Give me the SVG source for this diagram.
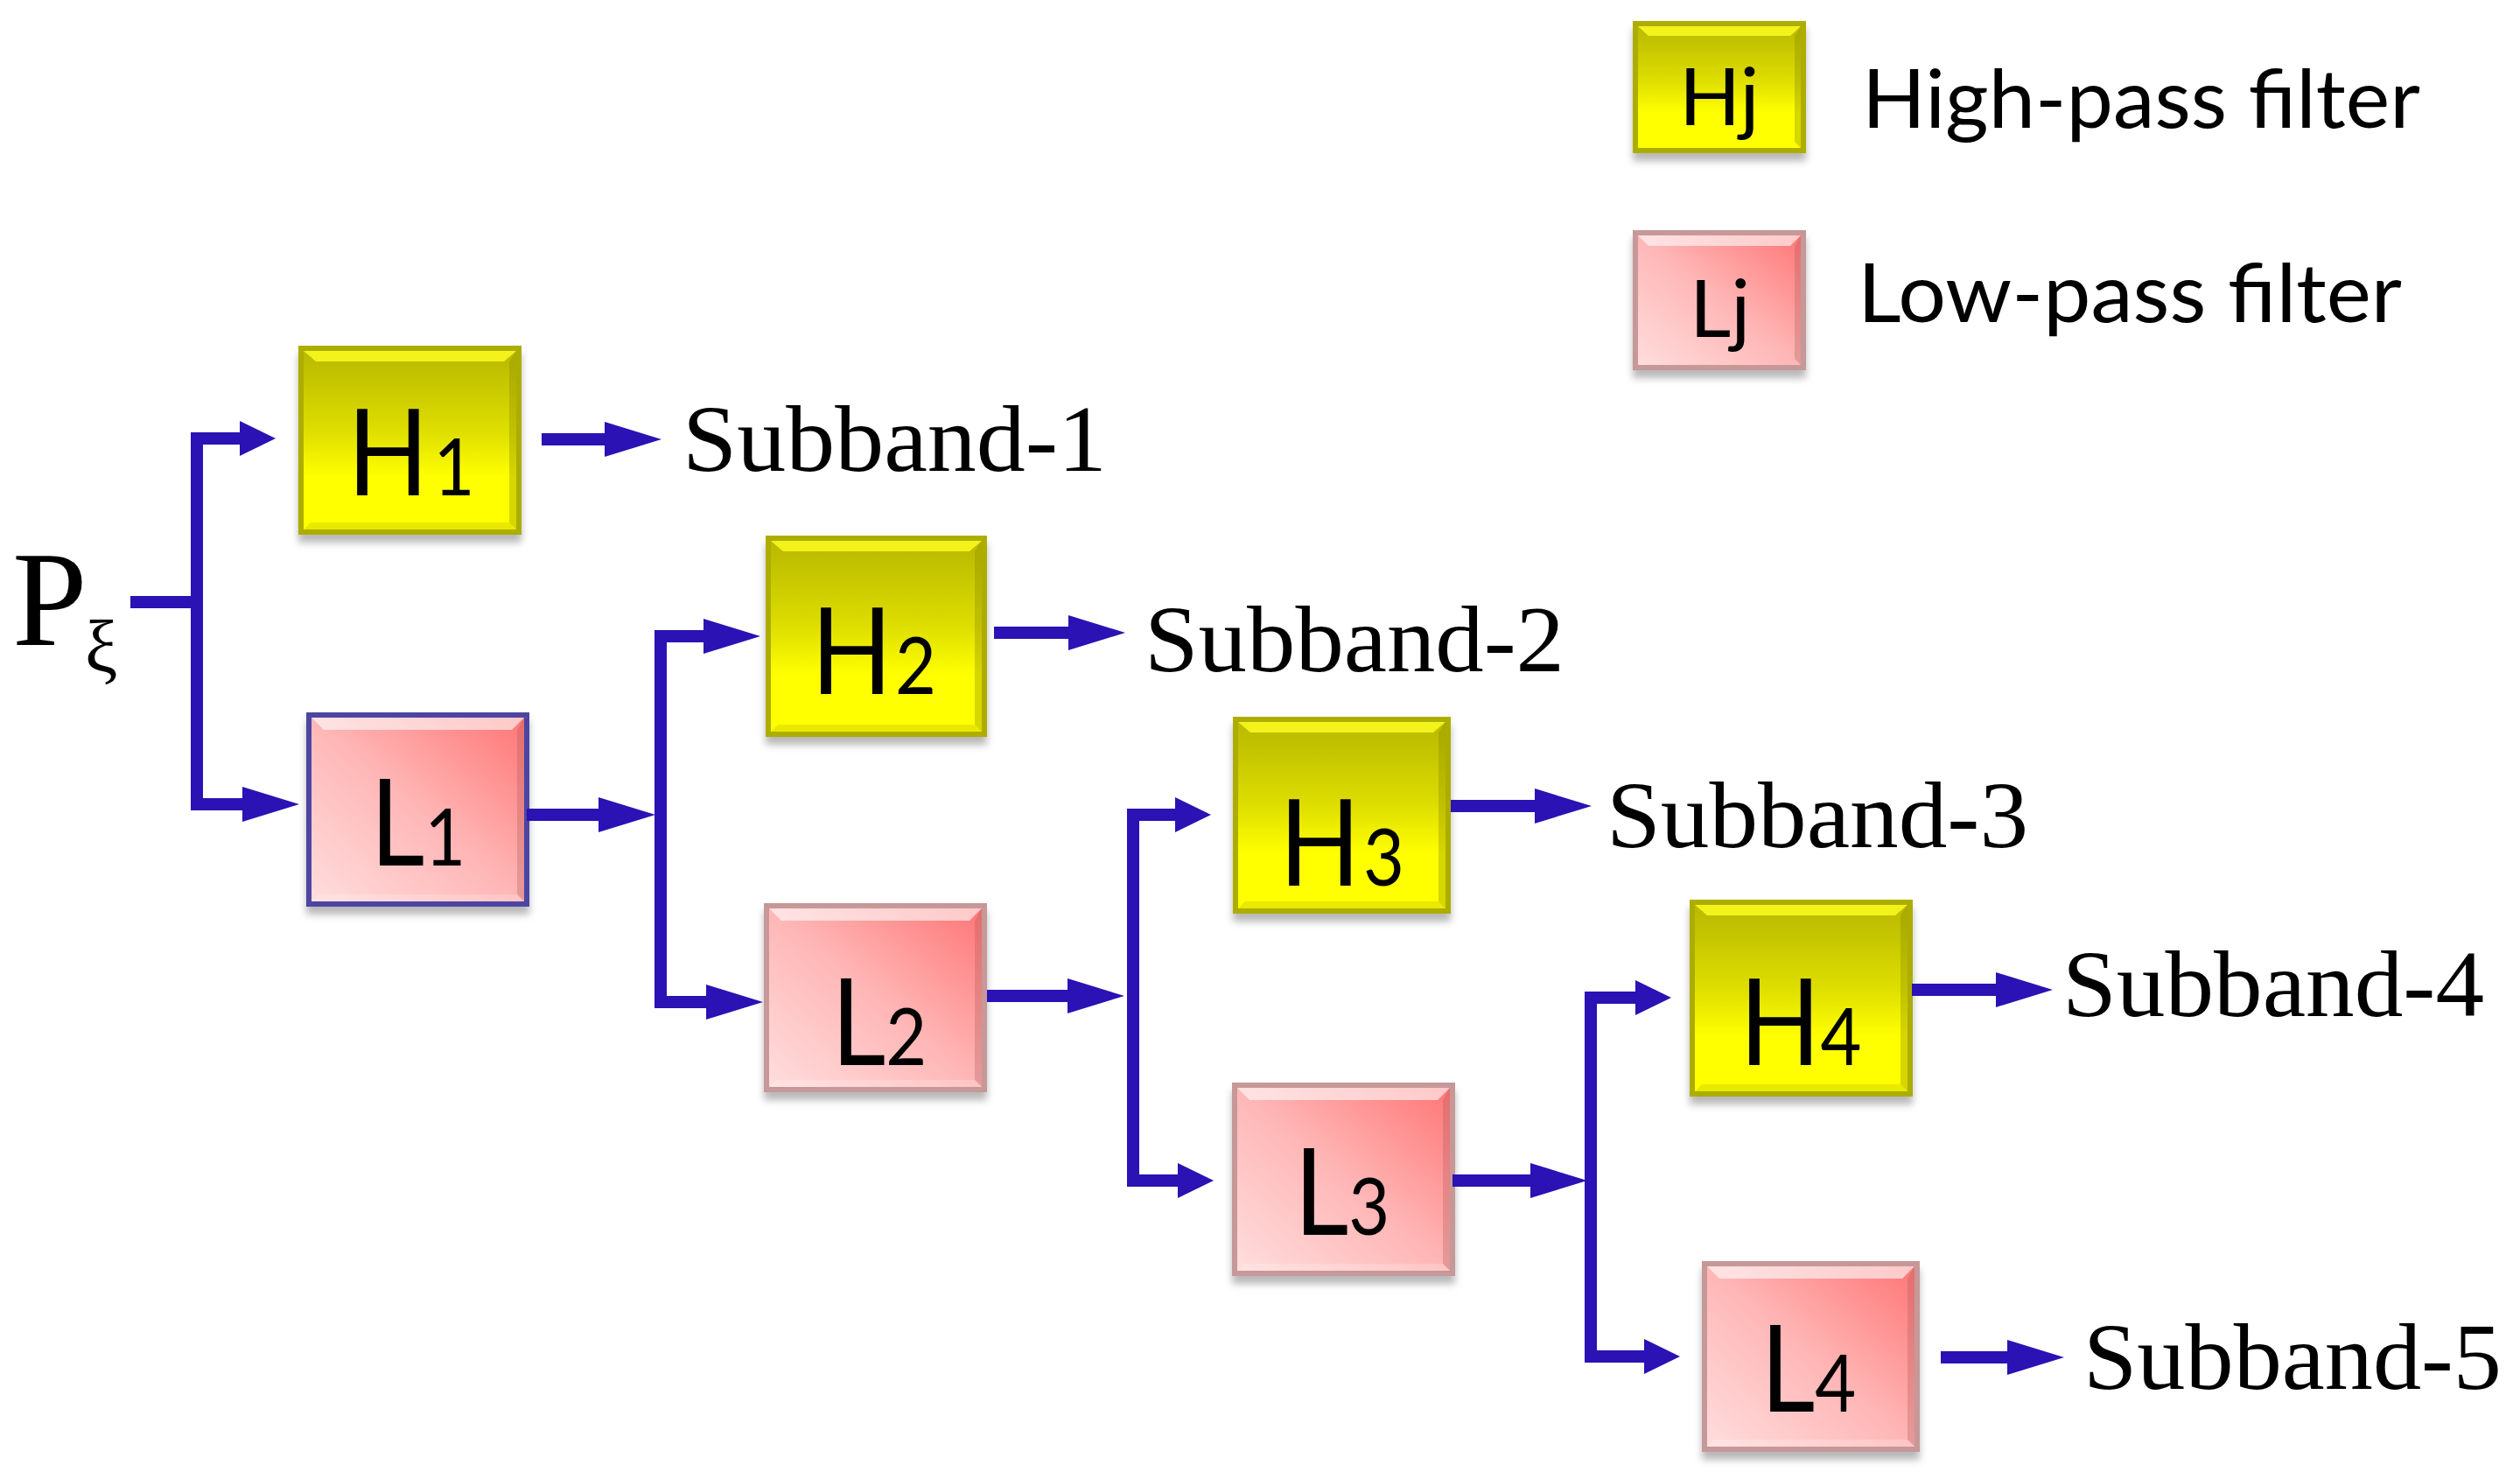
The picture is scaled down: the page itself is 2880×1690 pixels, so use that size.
<svg xmlns="http://www.w3.org/2000/svg" width="2880" height="1690" viewBox="0 0 2880 1690">
<defs>
<linearGradient id="gY" x1="0" y1="0" x2="0" y2="1">
<stop offset="0" stop-color="#b9b900"/>
<stop offset="0.15" stop-color="#c3c300"/>
<stop offset="0.45" stop-color="#dede00"/>
<stop offset="0.7" stop-color="#ffff00"/>
<stop offset="1" stop-color="#ffff00"/>
</linearGradient>
<linearGradient id="gP" x1="0" y1="1" x2="1" y2="0">
<stop offset="0" stop-color="#ffdede"/>
<stop offset="0.5" stop-color="#ffb6b6"/>
<stop offset="1" stop-color="#ff7474"/>
</linearGradient>
<filter id="sh" x="-10%" y="-10%" width="120%" height="130%">
<feDropShadow dx="0" dy="9" stdDeviation="4" flood-color="#000" flood-opacity="0.28"/>
</filter>
<marker id="aL" markerUnits="userSpaceOnUse" markerWidth="66" markerHeight="42" refX="10" refY="20" orient="auto" overflow="visible">
<path d="M0,0 L65,20 L0,40 Z" fill="#2a12b4"/>
</marker>
<marker id="aS" markerUnits="userSpaceOnUse" markerWidth="42" markerHeight="42" refX="10" refY="20" orient="auto" overflow="visible">
<path d="M0,0 L41,20 L0,40 Z" fill="#2a12b4"/>
</marker>
</defs>
<style>
.hb{fill:url(#gY);stroke:#adad00;stroke-width:6;filter:url(#sh)}
.lb{fill:url(#gP);stroke:#c69898;stroke-width:6;filter:url(#sh)}
.lb1{stroke:#4e44a2}
.hhl{fill:#f6f61c;opacity:0.95}
.lhl{fill:#ffffff;opacity:0.6}
.hrb{fill:#8a8a00;opacity:0.35}
.lrb{fill:#a85858;opacity:0.3}
.hbb{fill:#a6a600;opacity:0.25}
.lbb{fill:#ffffff;opacity:0.2}
.lab{font-family:Lato,"Open Sans",sans-serif;font-size:138px;fill:#000}
.sub{font-size:92px}
.leg{font-family:Lato,"Open Sans",sans-serif;font-size:92px;fill:#000}
.sb{font-family:"Liberation Serif","Times New Roman",serif;font-size:108px;fill:#000}
.con{fill:none;stroke:#2a12b4;stroke-width:14;stroke-linejoin:miter;stroke-linecap:butt}
.long{marker-end:url(#aL)}
.short{marker-end:url(#aS)}
</style>
<rect width="2880" height="1690" fill="#ffffff"/>

<g id="input">
<text class="sb" x="14" y="737" style="font-size:154px">P</text>
<text class="sb" x="97" y="768" style="font-size:84px">ξ</text>
</g>

<g id="H1">
<rect class="hb" x="344" y="398" width="249" height="210"/>
<polygon class="hhl" points="347,401 590,401 576,413 361,413"/>
<polygon class="hrb" points="590,401 590,605 582,597 582,413"/>
<polygon class="hbb" points="347,605 590,605 582,597 355,597"/>
<text class="lab" transform="translate(397,566) scale(0.88,1)">H<tspan class="sub" x="112">1</tspan></text>
</g>

<g id="L1">
<rect class="lb lb1" x="353" y="817" width="249" height="216"/>
<polygon class="lhl" points="356,820 599,820 585,834 370,834"/>
<polygon class="lrb" points="599,820 599,1030 591,1022 591,834"/>
<polygon class="lbb" points="356,1030 599,1030 591,1022 364,1022"/>
<text class="lab" transform="translate(423,989) scale(0.88,1)">L<tspan class="sub">1</tspan></text>
</g>

<g id="H2">
<rect class="hb" x="878" y="615" width="247" height="224"/>
<polygon class="hhl" points="881,618 1122,618 1108,630 895,630"/>
<polygon class="hrb" points="1122,618 1122,836 1114,828 1114,630"/>
<polygon class="hbb" points="881,836 1122,836 1114,828 889,828"/>
<text class="lab" transform="translate(927,793) scale(0.88,1)">H<tspan class="sub" x="109">2</tspan></text>
</g>

<g id="L2">
<rect class="lb" x="876" y="1035" width="249" height="210"/>
<polygon class="lhl" points="879,1038 1122,1038 1108,1052 893,1052"/>
<polygon class="lrb" points="1122,1038 1122,1242 1114,1234 1114,1052"/>
<polygon class="lbb" points="879,1242 1122,1242 1114,1234 887,1234"/>
<text class="lab" transform="translate(950,1217) scale(0.88,1)">L<tspan class="sub">2</tspan></text>
</g>

<g id="H3">
<rect class="hb" x="1412" y="822" width="243" height="219"/>
<polygon class="hhl" points="1415,825 1652,825 1638,837 1429,837"/>
<polygon class="hrb" points="1652,825 1652,1038 1644,1030 1644,837"/>
<polygon class="hbb" points="1415,1038 1652,1038 1644,1030 1423,1030"/>
<text class="lab" transform="translate(1462,1012) scale(0.88,1)">H<tspan class="sub" x="109">3</tspan></text>
</g>

<g id="L3">
<rect class="lb" x="1411" y="1240" width="249" height="215"/>
<polygon class="lhl" points="1414,1243 1657,1243 1643,1257 1428,1257"/>
<polygon class="lrb" points="1657,1243 1657,1452 1649,1444 1649,1257"/>
<polygon class="lbb" points="1414,1452 1657,1452 1649,1444 1422,1444"/>
<text class="lab" transform="translate(1479,1411) scale(0.88,1)">L<tspan class="sub">3</tspan></text>
</g>

<g id="H4">
<rect class="hb" x="1934" y="1031" width="249" height="219"/>
<polygon class="hhl" points="1937,1034 2180,1034 2166,1046 1951,1046"/>
<polygon class="hrb" points="2180,1034 2180,1247 2172,1239 2172,1046"/>
<polygon class="hbb" points="1937,1247 2180,1247 2172,1239 1945,1239"/>
<text class="lab" transform="translate(1988,1217) scale(0.88,1)">H<tspan class="sub" x="105">4</tspan></text>
</g>

<g id="L4">
<rect class="lb" x="1948" y="1444" width="243" height="212"/>
<polygon class="lhl" points="1951,1447 2188,1447 2174,1461 1965,1461"/>
<polygon class="lrb" points="2188,1447 2188,1653 2180,1645 2180,1461"/>
<polygon class="lbb" points="1951,1653 2188,1653 2180,1645 1959,1645"/>
<text class="lab" transform="translate(2012,1613) scale(0.88,1)">L<tspan class="sub">4</tspan></text>
</g>

<g id="legend-H">
<rect class="hb" x="1869" y="27" width="192" height="145"/>
<polygon class="hhl" points="1872,30 2058,30 2046,41 1884,41"/>
<polygon class="hrb" points="2058,30 2058,169 2051,162 2051,41"/>
<text class="leg" x="1919" y="143">Hj</text>
<text class="leg" x="2128" y="146" style="font-size:93px" textLength="638" lengthAdjust="spacingAndGlyphs">High-pass filter</text>
</g>

<g id="legend-L">
<rect class="lb" x="1869" y="266" width="192" height="154"/>
<polygon class="lhl" points="1872,269 2058,269 2046,281 1884,281"/>
<polygon class="lrb" points="2058,269 2058,417 2051,410 2051,281"/>
<text class="leg" x="1931" y="385">Lj</text>
<text class="leg" x="2123" y="368" style="font-size:93px" textLength="622" lengthAdjust="spacingAndGlyphs">Low-pass filter</text>
</g>

<g id="outputs">
<text class="sb" x="780" y="538" textLength="485" lengthAdjust="spacingAndGlyphs">Subband-1</text>
<text class="sb" x="1308" y="767" textLength="480" lengthAdjust="spacingAndGlyphs">Subband-2</text>
<text class="sb" x="1836" y="968" textLength="482" lengthAdjust="spacingAndGlyphs">Subband-3</text>
<text class="sb" x="2357" y="1161" textLength="482" lengthAdjust="spacingAndGlyphs">Subband-4</text>
<text class="sb" x="2381" y="1587" textLength="478" lengthAdjust="spacingAndGlyphs">Subband-5</text>
</g>

<g id="connectors">
<path class="con" d="M149,688 H225"/>
<path class="con short" d="M225,688 V501 H284"/>
<path class="con long" d="M225,688 V919 H287"/>
<path class="con long" d="M619,502 H701"/>
<path class="con long" d="M602,931 H694"/>
<path class="con long" d="M755,931 V727 H814"/>
<path class="con long" d="M755,931 V1145 H817"/>
<path class="con long" d="M1136,723 H1231"/>
<path class="con long" d="M1128,1138 H1230"/>
<path class="con short" d="M1295,1138 V931 H1353"/>
<path class="con short" d="M1295,1138 V1349 H1356"/>
<path class="con long" d="M1658,921 H1764"/>
<path class="con long" d="M1660,1349 H1759"/>
<path class="con short" d="M1818,1349 V1140 H1879"/>
<path class="con short" d="M1818,1349 V1550 H1889"/>
<path class="con long" d="M2185,1131 H2291"/>
<path class="con long" d="M2218,1551 H2304"/>
</g>
</svg>
